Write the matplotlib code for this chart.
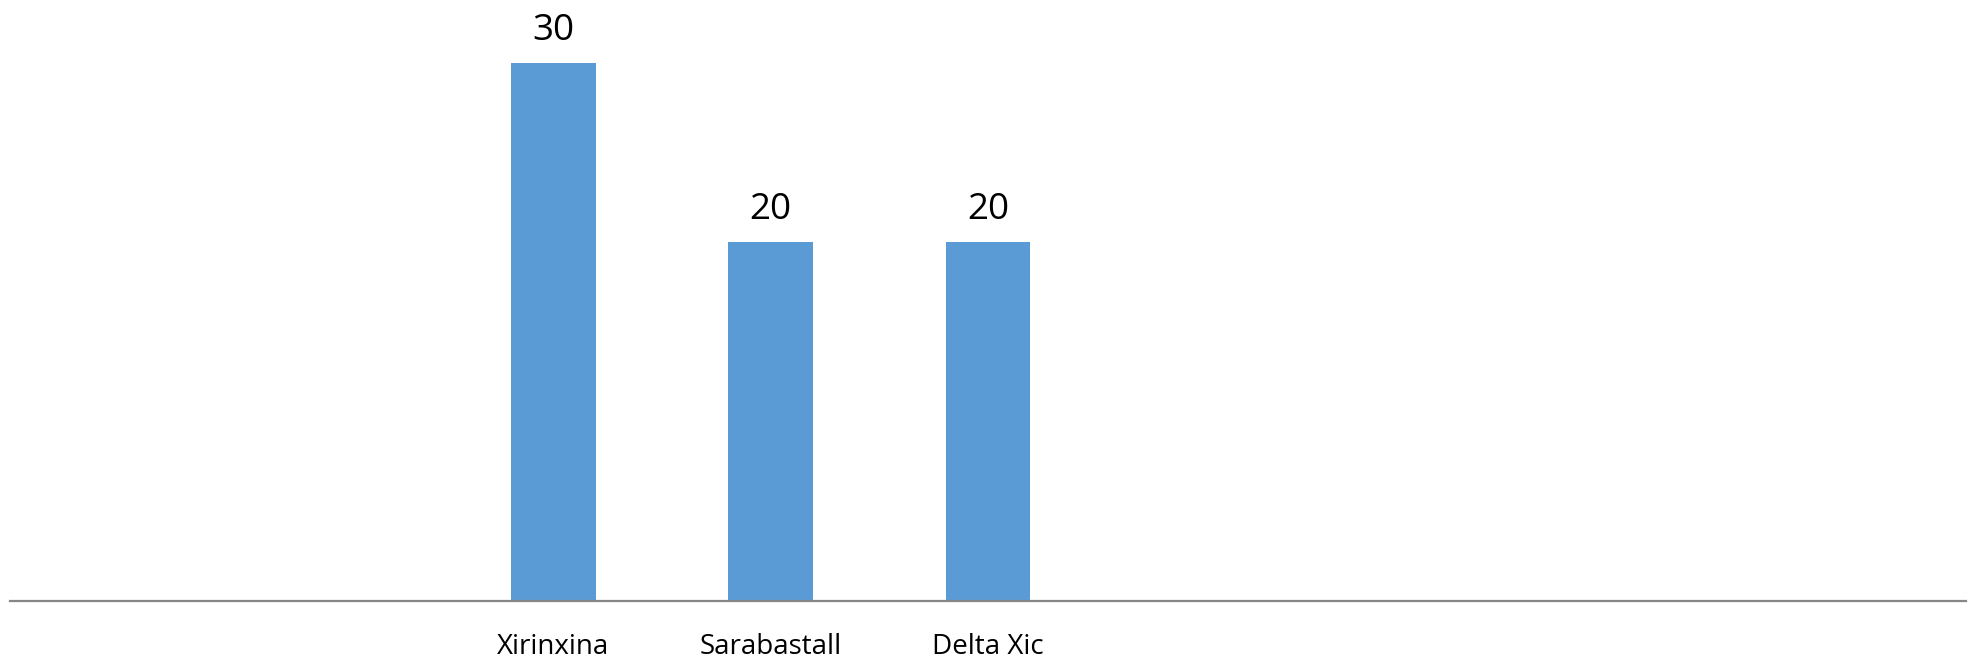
import matplotlib
matplotlib.use("Agg")
import matplotlib.pyplot as plt

categories = ["", "", "Xirinxina", "Sarabastall", "Delta Xic", "", "", "", ""]
values = [None, None, 30, 20, 20, None, None, None, None]

plt.rcParams['font.family'] = ['Open Sans', 'DejaVu Sans']

W, H = 1971, 659
fig = plt.figure(figsize=(W / 100, H / 100), dpi=100)
left, right, base = 10, 1966, 601
ax = fig.add_axes([left / W, (H - base) / H, (right - left) / W, base / H])

xs = [i for i, v in enumerate(values) if v is not None]
vs = [v for v in values if v is not None]
bars = ax.bar(xs, vs, width=0.39, color="#5B9BD5", zorder=2)
for x, v in zip(xs, vs):
    ax.annotate(f"{v}", xy=(x, v), xytext=(0, 16.6), textcoords="offset points",
                ha="center", va="baseline", fontsize=26.5, color="black")

ax.set_xlim(-0.5, len(categories) - 0.5)
ax.set_ylim(0, 33.52)
ax.set_xticks(range(len(categories)))
ax.set_xticklabels(categories, fontsize=20, color="black")
ax.tick_params(axis="x", length=0, pad=38.2)
for lbl in ax.get_xticklabels():
    lbl.set_va("baseline")
ax.set_yticks([])
for s in ["top", "left", "right"]:
    ax.spines[s].set_visible(False)
ax.spines["bottom"].set_color("#868686")
ax.spines["bottom"].set_linewidth(1.6)
ax.spines["bottom"].set_zorder(3)

fig.savefig("out.png", dpi=100, facecolor="white")
